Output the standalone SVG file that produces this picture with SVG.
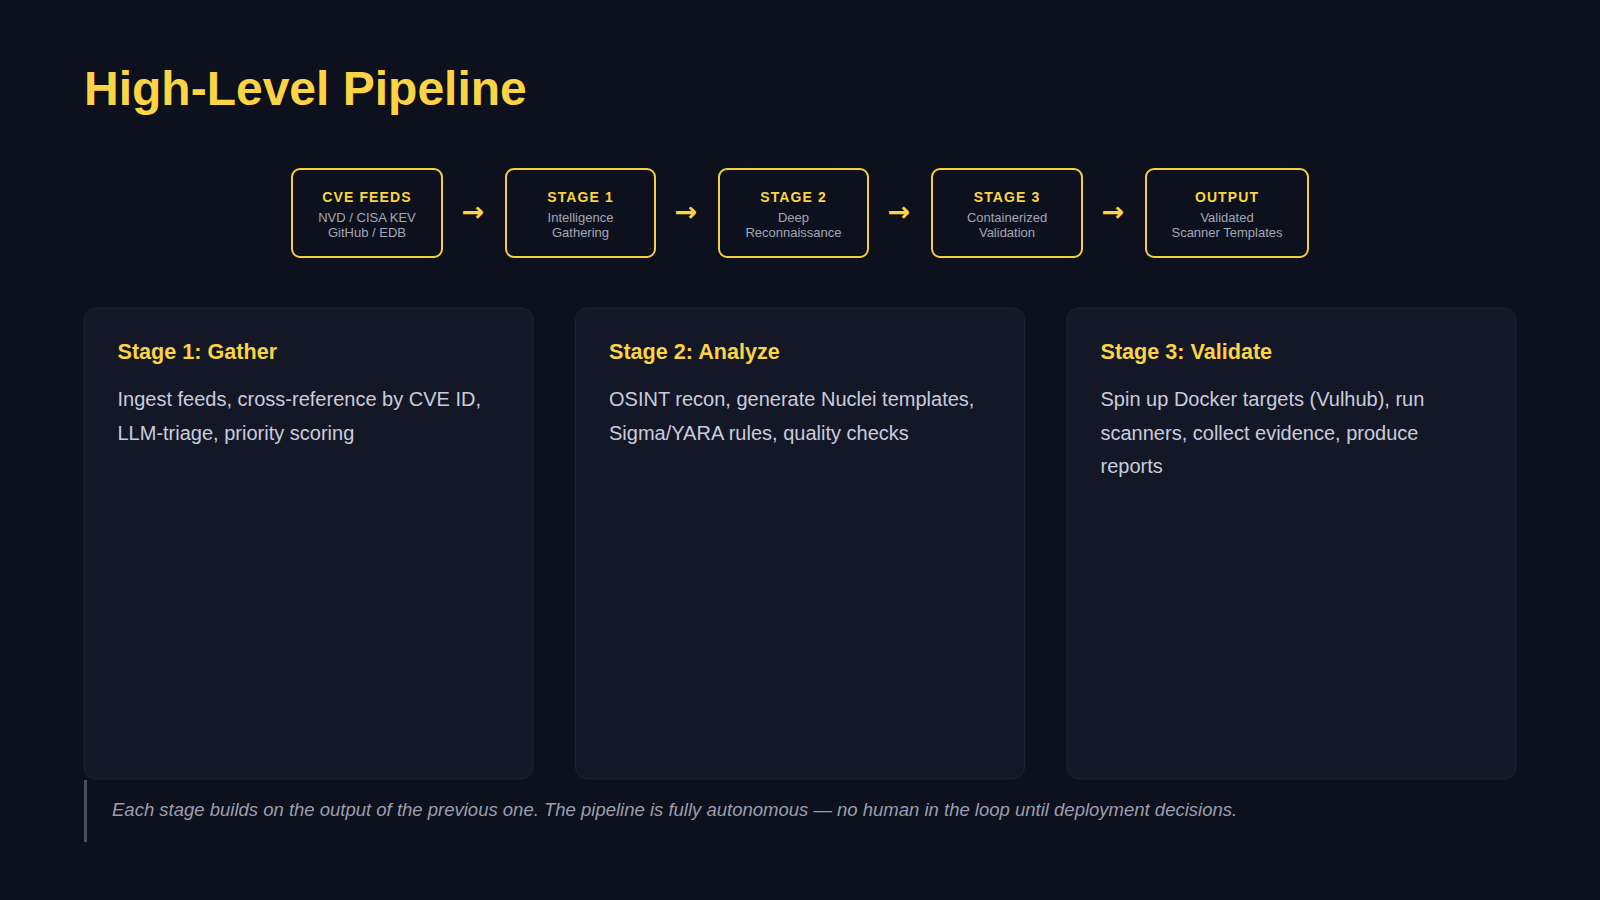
<svg xmlns="http://www.w3.org/2000/svg" width="1600" height="900" viewBox="0 0 1600 900">
<style>
.bg{fill:#0d111d}
.pbox{fill:#0d111d;stroke:#f5cf3e;stroke-width:2}
.ptitle{font-family:"Liberation Sans",Arial,sans-serif;font-weight:bold;font-size:14px;letter-spacing:1.1px;fill:#fbd446;text-anchor:middle}
.psub{font-family:"Liberation Sans",Arial,sans-serif;font-size:13px;fill:#a3a7b6;text-anchor:middle}
.arrow{font-family:"DejaVu Sans",sans-serif;font-weight:bold;font-size:27px;fill:#fbd446;text-anchor:middle}
.card{fill:#141826;stroke:#1e2232;stroke-width:1}
.ctitle{font-family:"Liberation Sans",Arial,sans-serif;font-weight:bold;font-size:21.6px;fill:#fbd446}
.cbody{font-family:"Liberation Sans",Arial,sans-serif;font-size:20px;fill:#c9ccdd}
.note{font-family:"Liberation Sans",Arial,sans-serif;font-style:italic;font-size:18.5px;fill:#9a9eae}
</style>
<rect class="bg" x="0" y="0" width="1600" height="900"/>
<text x="84" y="105" font-family="Liberation Sans, Arial, sans-serif" font-weight="bold" font-size="48" fill="#fbd446">High-Level Pipeline</text>

<g id="connectors">
<text class="arrow" x="473" y="221">→</text>
<text class="arrow" x="686" y="221">→</text>
<text class="arrow" x="899" y="221">→</text>
<text class="arrow" x="1113" y="221">→</text>
</g>

<g id="node-cve-feeds">
<rect class="pbox" x="292" y="169" width="150" height="88" rx="8"/>
<text class="ptitle" x="367" y="202">CVE FEEDS</text>
<text class="psub" x="367" y="222">NVD / CISA KEV</text>
<text class="psub" x="367" y="237">GitHub / EDB</text>
</g>
<g id="node-stage1">
<rect class="pbox" x="506" y="169" width="149" height="88" rx="8"/>
<text class="ptitle" x="580.5" y="202">STAGE 1</text>
<text class="psub" x="580.5" y="222">Intelligence</text>
<text class="psub" x="580.5" y="237">Gathering</text>
</g>
<g id="node-stage2">
<rect class="pbox" x="719" y="169" width="149" height="88" rx="8"/>
<text class="ptitle" x="793.5" y="202">STAGE 2</text>
<text class="psub" x="793.5" y="222">Deep</text>
<text class="psub" x="793.5" y="237">Reconnaissance</text>
</g>
<g id="node-stage3">
<rect class="pbox" x="932" y="169" width="150" height="88" rx="8"/>
<text class="ptitle" x="1007" y="202">STAGE 3</text>
<text class="psub" x="1007" y="222">Containerized</text>
<text class="psub" x="1007" y="237">Validation</text>
</g>
<g id="node-output">
<rect class="pbox" x="1146" y="169" width="162" height="88" rx="8"/>
<text class="ptitle" x="1227" y="202">OUTPUT</text>
<text class="psub" x="1227" y="222">Validated</text>
<text class="psub" x="1227" y="237">Scanner Templates</text>
</g>

<g id="card-stage1">
<rect class="card" x="84" y="308" width="449" height="471" rx="12"/>
<text class="ctitle" x="117.5" y="359">Stage 1: Gather</text>
<text class="cbody" x="117.5" y="406">Ingest feeds, cross-reference by CVE ID,</text>
<text class="cbody" x="117.5" y="439.5">LLM-triage, priority scoring</text>
</g>
<g id="card-stage2">
<rect class="card" x="575.5" y="308" width="449" height="471" rx="12"/>
<text class="ctitle" x="609" y="359">Stage 2: Analyze</text>
<text class="cbody" x="609" y="406">OSINT recon, generate Nuclei templates,</text>
<text class="cbody" x="609" y="439.5">Sigma/YARA rules, quality checks</text>
</g>
<g id="card-stage3">
<rect class="card" x="1067" y="308" width="449" height="471" rx="12"/>
<text class="ctitle" x="1100.5" y="359">Stage 3: Validate</text>
<text class="cbody" x="1100.5" y="406">Spin up Docker targets (Vulhub), run</text>
<text class="cbody" x="1100.5" y="439.5">scanners, collect evidence, produce</text>
<text class="cbody" x="1100.5" y="473">reports</text>
</g>

<g id="footnote">
<rect x="84" y="780" width="3" height="62" fill="#4b5063"/>
<text class="note" x="112" y="816">Each stage builds on the output of the previous one. The pipeline is fully autonomous — no human in the loop until deployment decisions.</text>
</g>
</svg>
